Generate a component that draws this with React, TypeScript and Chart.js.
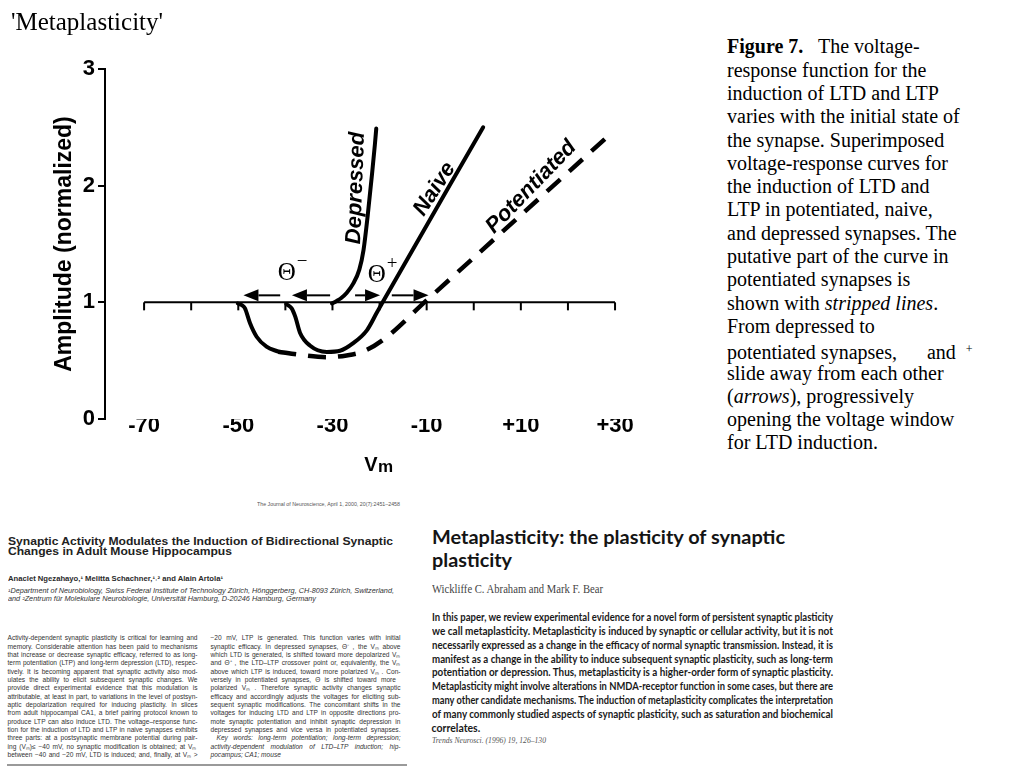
import React, { useEffect, useLayoutEffect, useRef } from 'react';
import { Chart, registerables } from 'chart.js';

Chart.register(...registerables);

// ---------------- chart data ----------------
const X_TICKS = [-70, -50, -30, -10, 10, 30];
const Y_TICKS = [0, 1, 2, 3];
const BASE_TICKS = [-70, -60, -50, -40, -30, -20, -10, 0, 10, 20, 30];
const BASELINE_X = [-70, 30];
const BASELINE_Y = 1;
const X_MIN = -78.3;
const X_MAX = 35.3;

const DEPRESSED_X = [-30.1, -29.2, -28.2, -27.0, -25.6, -24.3, -23.4, -22.5, -21.6, -21.0, -20.7];
const DEPRESSED_Y = [0.99, 1.01, 1.035, 1.08, 1.16, 1.28, 1.45, 1.75, 2.1, 2.35, 2.49];

const NAIVE_X = [-39.8, -38.7, -37.9, -36.9, -34.8, -31.2, -28.4, -25.6, -22.7, -20.6, -19.5, 2.0];
const NAIVE_Y = [0.985, 0.95, 0.877, 0.74, 0.63, 0.575, 0.585, 0.65, 0.76, 0.91, 0.99, 2.5];

const POT_SOLID_X = [-50.1, -49.2, -48.6, -47.5, -46.1, -44.0, -41.5];
const POT_SOLID_Y = [0.99, 0.975, 0.95, 0.82, 0.705, 0.62, 0.577];

const POT_DASH_X = [-41.5, -36.9, -31.2, -27.0, -23.4, -19.2, -10.2, 29.5];
const POT_DASH_Y = [0.577, 0.55, 0.53, 0.545, 0.58, 0.68, 1.01, 2.46];

const ARROW_FROM = [-41.1, -30.5, -25.2, -17.4];
const ARROW_TO = [-48.9, -38.6, -19.9, -9.6];
const ARROW_Y = 1.06;

const CURVE_LABELS = ['Depressed', 'Naive', 'Potentiated'];
const LABEL_X = [-25.0, -8.3, 12.2];
const LABEL_Y = [1.98, 1.97, 1.99];
const LABEL_ANGLE = [-88, -57, -46];

const THETA_SUP = ['\u2212', '+'];
const THETA_X = [-39.7, -20.6];
const THETA_Y = [1.25, 1.23];

const Y_TITLE = 'Amplitude (normalized)';
const X_TITLE_MAIN = 'V';
const X_TITLE_SUB = 'm';

// ---------------- page text ----------------
const PAGE_TITLE = "'Metaplasticity'";

const LEFT_HEADER = 'The Journal of Neuroscience, April 1, 2000, 20(7):2451\u20132458';
const LEFT_TITLE = [
  'Synaptic Activity Modulates the Induction of Bidirectional Synaptic',
  'Changes in Adult Mouse Hippocampus',
];
const LEFT_AUTHORS = 'Anaclet Ngezahayo,\u00b9 Melitta Schachner,\u00b9\u02d2\u00b2 and Alain Artola\u00b9';
const LEFT_AFFIL = [
  '\u00b9Department of Neurobiology, Swiss Federal Institute of Technology Z\u00fcrich, H\u00f6nggerberg, CH-8093 Z\u00fcrich, Switzerland,',
  'and \u00b2Zentrum f\u00fcr Molekulare Neurobiologie, Universit\u00e4t Hamburg, D-20246 Hamburg, Germany',
];
const LEFT_COL1 = [
  'Activity-dependent synaptic plasticity is critical for learning and',
  'memory. Considerable attention has been paid to mechanisms',
  'that increase or decrease synaptic efficacy, referred to as long-',
  'term potentiation (LTP) and long-term depression (LTD), respec-',
  'tively. It is becoming apparent that synaptic activity also mod-',
  'ulates the ability to elicit subsequent synaptic changes. We',
  'provide direct experimental evidence that this modulation is',
  'attributable, at least in part, to variations in the level of postsyn-',
  'aptic depolarization required for inducing plasticity. In slices',
  'from adult hippocampal CA1, a brief pairing protocol known to',
  'produce LTP can also induce LTD. The voltage\u2013response func-',
  'tion for the induction of LTD and LTP in naive synapses exhibits',
  'three parts: at a postsynaptic membrane potential during pair-',
  'ing (V\u2098)\u2264  \u221240 mV, no synaptic modification is obtained; at V\u2098',
  'between \u221240 and \u221220 mV, LTD is induced; and, finally, at V\u2098 >',
];
const LEFT_COL2 = [
  '\u221220 mV, LTP is generated. This function varies with initial',
  'synaptic efficacy. In depressed synapses, \u0398\u207b , the V\u2098 above',
  'which LTD is generated, is shifted toward more depolarized V\u2098',
  'and \u0398\u207a , the LTD\u2013LTP crossover point or, equivalently, the V\u2098',
  'above which LTP is induced, toward more polarized V\u2098 . Con-',
  'versely in potentiated synapses, \u0398   is shifted toward more',
  'polarized V\u2098 . Therefore synaptic activity changes synaptic',
  'efficacy and accordingly adjusts the voltages for eliciting sub-',
  'sequent synaptic modifications. The concomitant shifts in the',
  'voltages for inducing LTD and LTP in opposite directions pro-',
  'mote synaptic potentiation and inhibit synaptic depression in',
  'depressed synapses and vice versa in potentiated synapses.',
];
const LEFT_KEYWORDS = [
  'Key words: long-term potentiation; long-term depression;',
  'activity-dependent modulation of LTD\u2013LTP induction; hip-',
  'pocampus; CA1; mouse',
];

const RIGHT_TITLE = ['Metaplasticity: the plasticity of synaptic', 'plasticity'];
const RIGHT_AUTHORS = 'Wickliffe C. Abraham and Mark F. Bear';
const RIGHT_BODY = [
  'In this paper, we review experimental evidence for a novel form of persistent synaptic plasticity',
  'we call metaplasticity. Metaplasticity is induced by synaptic or cellular activity, but it is not',
  'necessarily expressed as a change in the efficacy of normal synaptic transmission. Instead, it is',
  'manifest as a change in the ability to induce subsequent synaptic plasticity, such as long-term',
  'potentiation or depression. Thus, metaplasticity is a higher-order form of synaptic plasticity.',
  'Metaplasticity might involve alterations in NMDA-receptor function in some cases, but there are',
  'many other candidate mechanisms. The induction of metaplasticity complicates the interpretation',
  'of many commonly studied aspects of synaptic plasticity, such as saturation and biochemical',
  'correlates.',
];
const RIGHT_CITE = 'Trends Neurosci. (1996) 19, 126\u2013130';

const SANS = '"Liberation Sans", Arial, sans-serif';
const SERIF = '"Liberation Serif", "Times New Roman", serif';
const HUMANIST = 'Lato, "Open Sans", sans-serif';

const zip = (xs: number[], ys: number[]) => xs.map((x, i) => ({ x, y: ys[i] }));

// ---------------- line helper ----------------
type LineProps = {
  x: number; y: number; w?: number; mode?: 'fit' | 'justify' | 'none';
  size: number; lh: number; family: string; weight?: number | string; italic?: boolean;
  color?: string; children: React.ReactNode;
};
function Line({ x, y, w, mode = 'none', size, lh, family, weight = 400, italic = false, color = '#000', children }: LineProps) {
  return (
    <div
      data-fit={mode}
      data-w={w}
      style={{
        position: 'absolute', left: x, top: y - lh / 2, height: lh, lineHeight: lh + 'px',
        fontSize: size, fontFamily: family, fontWeight: weight as any,
        fontStyle: italic ? 'italic' : 'normal', color, whiteSpace: 'nowrap',
      }}
    >
      <span style={{ display: 'inline-block', transformOrigin: '0 50%', whiteSpace: 'nowrap' }}>{children}</span>
    </div>
  );
}

function fitAll(root: HTMLElement | null) {
  if (!root) return;
  root.querySelectorAll<HTMLElement>('[data-fit]').forEach((el) => {
    const mode = el.dataset.fit;
    if (mode === 'none') return;
    const target = parseFloat(el.dataset.w || '0');
    const span = el.firstElementChild as HTMLElement;
    span.style.transform = '';
    span.style.wordSpacing = '';
    const w = span.getBoundingClientRect().width;
    if (!w || !target) return;
    if (mode === 'fit' || w > target) {
      span.style.transform = `scaleX(${target / w})`;
    } else {
      const n = (span.textContent || '').split(' ').length - 1;
      if (n > 0) span.style.wordSpacing = `${(target - w) / n}px`;
    }
  });
}

// ---------------- chart ----------------
const overlay = {
  id: 'overlay',
  afterDatasetsDraw(chart: any) {
    const { ctx, scales } = chart;
    const x = scales.x;
    const y = scales.y;
    ctx.save();
    ctx.strokeStyle = '#000';
    ctx.fillStyle = '#000';
    // ticks on the baseline
    ctx.lineWidth = 2;
    const yb = y.getPixelForValue(BASELINE_Y);
    BASE_TICKS.forEach((v) => {
      const px = x.getPixelForValue(v);
      ctx.beginPath();
      ctx.moveTo(px, yb);
      ctx.lineTo(px, yb + 8);
      ctx.stroke();
    });
    // arrows
    const ya = y.getPixelForValue(ARROW_Y);
    ARROW_FROM.forEach((f, i) => {
      const x0 = x.getPixelForValue(f);
      const x1 = x.getPixelForValue(ARROW_TO[i]);
      const dir = Math.sign(x1 - x0);
      const head = 15;
      ctx.lineWidth = 2;
      ctx.beginPath();
      ctx.moveTo(x0, ya);
      ctx.lineTo(x1 - dir * head, ya);
      ctx.stroke();
      ctx.beginPath();
      ctx.moveTo(x1, ya);
      ctx.lineTo(x1 - dir * head, ya - 6);
      ctx.lineTo(x1 - dir * head, ya + 6);
      ctx.closePath();
      ctx.fill();
    });
    // curve labels
    ctx.font = `italic bold 22px ${SANS}`;
    ctx.textAlign = 'center';
    ctx.textBaseline = 'middle';
    CURVE_LABELS.forEach((t, i) => {
      ctx.save();
      ctx.translate(x.getPixelForValue(LABEL_X[i]), y.getPixelForValue(LABEL_Y[i]));
      ctx.rotate((LABEL_ANGLE[i] * Math.PI) / 180);
      ctx.fillText(t, 0, 0);
      ctx.restore();
    });
    // thetas
    THETA_SUP.forEach((s, i) => {
      const cx = x.getPixelForValue(THETA_X[i]);
      const cy = y.getPixelForValue(THETA_Y[i]);
      ctx.font = `25px ${SERIF}`;
      ctx.textAlign = 'center';
      ctx.textBaseline = 'middle';
      ctx.fillText('\u0398', cx, cy);
      const w = ctx.measureText('\u0398').width;
      ctx.font = `19px ${SERIF}`;
      ctx.textAlign = 'left';
      ctx.fillText(s, cx + w / 2 + 1, cy - 11);
    });
    ctx.restore();
  },
  afterDraw(chart: any) {
    const { ctx, chartArea } = chart;
    ctx.save();
    ctx.fillStyle = '#000';
    // y title
    ctx.font = `bold 23px ${SANS}`;
    ctx.textAlign = 'center';
    ctx.textBaseline = 'middle';
    ctx.translate(65, (chartArea.top + chartArea.bottom) / 2);
    ctx.rotate(-Math.PI / 2);
    ctx.fillText(Y_TITLE, 0, 0);
    ctx.restore();
    // x title Vm
    ctx.save();
    ctx.fillStyle = '#000';
    ctx.textBaseline = 'alphabetic';
    ctx.textAlign = 'left';
    ctx.font = `bold 20px ${SANS}`;
    const wV = ctx.measureText(X_TITLE_MAIN).width;
    ctx.font = `bold 17px ${SANS}`;
    const wm = ctx.measureText(X_TITLE_SUB).width;
    const cx = (chartArea.left + chartArea.right) / 2 + 6;
    const start = cx - (wV + wm) / 2;
    const base = chartArea.bottom + 52;
    ctx.font = `bold 20px ${SANS}`;
    ctx.fillText(X_TITLE_MAIN, start, base);
    ctx.font = `bold 17px ${SANS}`;
    ctx.fillText(X_TITLE_SUB, start + wV + 0.5, base + 1);
    ctx.restore();
  },
};

function ChartView() {
  const ref = useRef<HTMLCanvasElement>(null);
  useEffect(() => {
    if (!ref.current) return;
    const solid = { borderColor: '#000', borderWidth: 4, pointRadius: 0, cubicInterpolationMode: 'monotone' as const, borderCapStyle: 'round' as const, borderJoinStyle: 'round' as const, fill: false };
    const chart = new Chart(ref.current, {
      type: 'line',
      data: {
        datasets: [
          { data: zip(BASELINE_X, BASELINE_X.map(() => BASELINE_Y)), borderColor: '#000', borderWidth: 2, pointRadius: 0, tension: 0, fill: false },
          { ...solid, data: zip(POT_SOLID_X, POT_SOLID_Y) },
          { ...solid, data: zip(POT_DASH_X, POT_DASH_Y), borderDash: [18, 12], borderWidth: 4.5, borderCapStyle: 'butt' as const },
          { ...solid, data: zip(NAIVE_X, NAIVE_Y) },
          { ...solid, data: zip(DEPRESSED_X, DEPRESSED_Y) },
        ],
      },
      options: {
        responsive: false,
        animation: false,
        events: [],
        layout: { padding: { top: 69, right: 60, bottom: 0, left: 0 } },
        plugins: { legend: { display: false }, tooltip: { enabled: false } },
        scales: {
          x: {
            type: 'linear',
            min: X_MIN,
            max: X_MAX,
            afterBuildTicks: (s: any) => { s.ticks = X_TICKS.map((v) => ({ value: v })); },
            afterFit: (s: any) => { s.height = 71; },
            border: { display: false },
            grid: { display: false, drawTicks: false },
            ticks: {
              font: { family: 'Liberation Sans', size: 22, weight: 'bold' },
              color: '#000',
              padding: -6,
              maxRotation: 0,
              autoSkip: false,
              callback: (v: any) => (Number(v) > 0 ? '+' + v : String(v)),
            },
          },
          y: {
            type: 'linear',
            min: Y_TICKS[0],
            max: Y_TICKS[Y_TICKS.length - 1],
            afterFit: (s: any) => { s.width = 105; },
            afterBuildTicks: (s: any) => { s.ticks = Y_TICKS.map((v) => ({ value: v })); },
            border: { display: true, color: '#000', width: 2 },
            grid: { drawOnChartArea: false, drawTicks: true, tickLength: 7, color: '#000', lineWidth: 2 },
            ticks: {
              font: { family: 'Liberation Sans', size: 22, weight: 'bold' },
              color: '#000',
              padding: 3,
            },
          },
        },
      },
      plugins: [overlay],
    } as any);
    return () => chart.destroy();
  }, []);
  return <canvas ref={ref} width={700} height={490} style={{ position: 'absolute', left: 0, top: 0, width: 700, height: 490 }} />;
}

// ---------------- right caption ----------------
const CAPTION: React.ReactNode[] = [
  <><b>Figure 7.</b>{'\u00a0\u00a0 The voltage-'}</>,
  'response function for the',
  'induction of LTD and LTP',
  'varies with the initial state of',
  'the synapse. Superimposed',
  'voltage-response curves for',
  'the induction of LTD and',
  'LTP in potentiated, naive,',
  'and depressed synapses. The',
  'putative part of the curve in',
  'potentiated synapses is',
  <>shown with <i>stripped lines</i>.</>,
  'From depressed to',
  <>potentiated synapses,<span style={{ display: 'inline-block', width: 30 }} />and<span style={{ display: 'inline-block', width: 10 }} /><sup style={{ fontSize: 12, verticalAlign: 6 }}>+</sup></>,
  'slide away from each other',
  <>(<i>arrows</i>), progressively</>,
  'opening the voltage window',
  'for LTD induction.',
];

export default function App() {
  const rootRef = useRef<HTMLDivElement>(null);
  useLayoutEffect(() => {
    fitAll(rootRef.current);
    const d: any = document;
    if (d.fonts && d.fonts.ready) d.fonts.ready.then(() => fitAll(rootRef.current));
    const t = setTimeout(() => fitAll(rootRef.current), 200);
    return () => clearTimeout(t);
  }, []);

  const lgray = '#333';
  return (
    <div ref={rootRef} style={{ position: 'absolute', left: 0, top: 0, width: 1024, height: 768, overflow: 'hidden', background: '#fff' }}>
      <ChartView />
      <Line x={11} y={22} size={25} lh={28} family={SERIF}>{PAGE_TITLE}</Line>

      {CAPTION.map((c, i) => (
        <Line key={'c' + i} x={727} y={47 + i * 23.3} size={20} lh={23.3} family={SERIF}>{c}</Line>
      ))}

      {/* left excerpt */}
      <Line x={257} y={504} w={143} mode="fit" size={5} lh={6} family={SANS} color="#555">{LEFT_HEADER}</Line>
      <Line x={7.5} y={541.5} w={385} mode="fit" size={10.5} lh={11} family={SANS} weight={700} color="#222">{LEFT_TITLE[0]}</Line>
      <Line x={7.5} y={551.8} w={224} mode="fit" size={10.5} lh={11} family={SANS} weight={700} color="#222">{LEFT_TITLE[1]}</Line>
      <Line x={7.5} y={579.3} w={215} mode="fit" size={7} lh={8} family={SANS} weight={700} color="#2a2a2a">{LEFT_AUTHORS}</Line>
      <Line x={7.5} y={590.7} w={386} mode="fit" size={6.6} lh={7.6} family={SANS} italic color={lgray}>{LEFT_AFFIL[0]}</Line>
      <Line x={7.5} y={598.3} w={308} mode="fit" size={6.6} lh={7.6} family={SANS} italic color={lgray}>{LEFT_AFFIL[1]}</Line>
      {LEFT_COL1.map((t, i) => (
        <Line key={'l1' + i} x={7.5} y={638.5 + i * 8.33} w={190} mode="justify" size={6.6} lh={8.33} family={SANS} color={lgray}>{t}</Line>
      ))}
      {LEFT_COL2.map((t, i) => (
        <Line key={'l2' + i} x={210.5} y={638.5 + i * 8.33} w={190} mode="justify" size={6.6} lh={8.33} family={SANS} color={lgray}>{t}</Line>
      ))}
      {LEFT_KEYWORDS.map((t, i) => (
        <Line key={'kw' + i} x={i === 0 ? 216.5 : 210.5} y={638.5 + (12 + i) * 8.33} w={i === 0 ? 184 : 190} mode={i === 2 ? 'none' : 'justify'} size={6.6} lh={8.33} family={SANS} italic color={lgray}>{t}</Line>
      ))}
      <div style={{ position: 'absolute', left: 7, top: 764, width: 400, height: 2, background: '#9a9a9a' }} />

      {/* right excerpt */}
      <Line x={431.5} y={536.7} w={353} mode="fit" size={19.5} lh={22} family={HUMANIST} weight={700} color="#141414">{RIGHT_TITLE[0]}</Line>
      <Line x={431.5} y={560} w={80} mode="fit" size={19.5} lh={22} family={HUMANIST} weight={700} color="#141414">{RIGHT_TITLE[1]}</Line>
      <Line x={431.5} y={589.3} w={171} mode="fit" size={11.5} lh={13} family={SERIF} color="#444">{RIGHT_AUTHORS}</Line>
      {RIGHT_BODY.map((t, i) => (
        <Line key={'rb' + i} x={431.5} y={617.3 + i * 13.9} w={401} mode={i === RIGHT_BODY.length - 1 ? 'none' : 'justify'} size={10.5} lh={13} family={HUMANIST} weight={700} color="#1a1a1a">{t}</Line>
      ))}
      <Line x={431.5} y={740.7} w={114} mode="fit" size={7.5} lh={9} family={SERIF} italic color="#555">{RIGHT_CITE}</Line>
    </div>
  );
}
